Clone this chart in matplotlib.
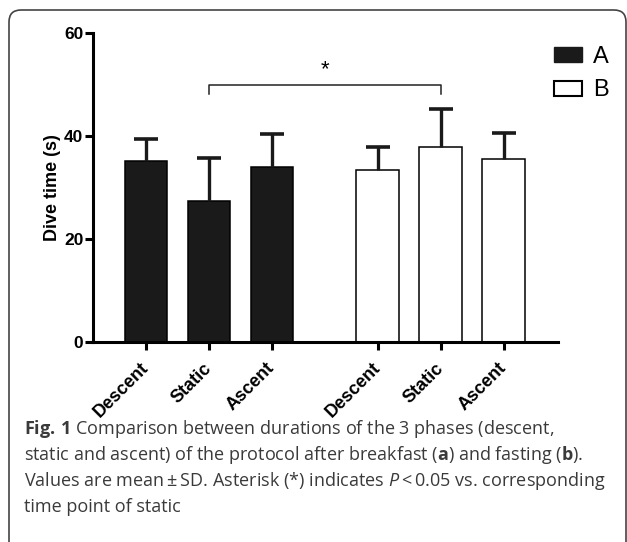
import matplotlib
matplotlib.use("Agg")
import matplotlib.pyplot as plt
import numpy as np
from matplotlib.patches import FancyBboxPatch, Patch
from matplotlib.transforms import IdentityTransform

# data
phases = ["Descent", "Static", "Ascent"]
mean_a = [35.1, 27.4, 34.0]
sd_a = [4.3, 8.3, 6.4]
mean_b = [33.4, 37.9, 35.5]
sd_b = [4.5, 7.3, 5.1]
group_names = ["A", "B"]
sig_level = 50
caption_lines = [
    r"$\mathbf{Fig.\,1}$ Comparison between durations of the 3 phases (descent,",
    r"static and ascent) of the protocol after breakfast ($\mathbf{a}$) and fasting ($\mathbf{b}$).",
    "Values are mean\u2009±\u2009SD. Asterisk (*) indicates $\\mathit{P}$\u2009<\u20090.05 vs. corresponding",
    "time point of static",
]

plt.rcParams['font.family'] = ['Liberation Sans', 'DejaVu Sans']
plt.rcParams['mathtext.fontset'] = 'custom'
plt.rcParams['mathtext.rm'] = 'Open Sans'
plt.rcParams['mathtext.bf'] = 'Open Sans:bold'
plt.rcParams['mathtext.it'] = 'Open Sans:italic'

W, H = 627, 542
fig = plt.figure(figsize=(W / 100, H / 100), dpi=100)
ax = fig.add_axes([93 / W, 1 - 342 / H, (558 - 93) / W, 309 / H])

pos_a = np.arange(1, 4)
pos_b = pos_a + 3.68
width = 0.68
cap = 0.19

ax.bar(pos_a, mean_a, width, color="#1a1a1a", edgecolor="black", linewidth=1.1, zorder=2)
ax.bar(pos_b, mean_b, width, color="white", edgecolor="black", linewidth=1.1, zorder=2)

for pos, m, s in [(pos_a, mean_a, sd_a), (pos_b, mean_b, sd_b)]:
    top = np.array(m) + np.array(s)
    ax.vlines(pos, m, top, color="#1a1a1a", linewidth=2.4, zorder=3)
    ax.hlines(top, pos - cap, pos + cap, color="#1a1a1a", linewidth=2.6, zorder=3)

# significance bracket between the two static bars
x1, x2 = pos_a[1], pos_b[1]
ax.plot([x1, x1, x2, x2], [sig_level - 1.8, sig_level, sig_level, sig_level - 1.8],
        color="#222222", linewidth=1.1, clip_on=False)
ax.text((x1 + x2) / 2, sig_level + 0.8, "*", ha="center", va="bottom", fontsize=16)

ax.set_xlim(0.16, 7.54)
ax.set_ylim(0, 60)
ax.set_yticks([0, 20, 40, 60])
ax.set_xticks(np.concatenate([pos_a, pos_b]))
ax.set_xticklabels(phases + phases, rotation=45, ha="right", va="center",
                   rotation_mode="anchor", fontsize=13, fontweight="bold")
for lab in ax.get_yticklabels():
    lab.set_fontweight("bold")
ax.tick_params(axis="y", labelsize=12.5, width=2.2, length=6, pad=1)
ax.tick_params(axis="x", width=2.2, length=6, pad=11)
ax.spines[["top", "right"]].set_visible(False)
ax.spines["left"].set_linewidth(2.2)
ax.spines["bottom"].set_linewidth(2.2)
ax.set_ylabel("Dive time (s)", fontsize=13, fontweight="bold", labelpad=2)

handles = [Patch(facecolor="#1a1a1a", edgecolor="#1a1a1a"),
           Patch(facecolor="white", edgecolor="black", linewidth=1.5)]
ax.legend(handles, group_names, loc="upper left", bbox_to_anchor=(0.972, 0.99),
          frameon=False, fontsize=17, handlelength=1.15, handleheight=0.6,
          handletextpad=0.5, labelspacing=0.5, borderaxespad=0)

# caption
for i, line in enumerate(caption_lines):
    fig.text(24 / W, 1 - (429 + 26 * i) / H, line, ha="left", va="center",
             fontsize=13.0, color="#3a3a3a", family="Open Sans")

# rounded frame around figure and caption
frame = FancyBboxPatch((9, -30), 617, H - 10 + 30, boxstyle="round,pad=0,rounding_size=12",
                       transform=IdentityTransform(), fill=False,
                       edgecolor="#444444", linewidth=1.2)
fig.patches.append(frame)

fig.savefig("out.png", dpi=100)
